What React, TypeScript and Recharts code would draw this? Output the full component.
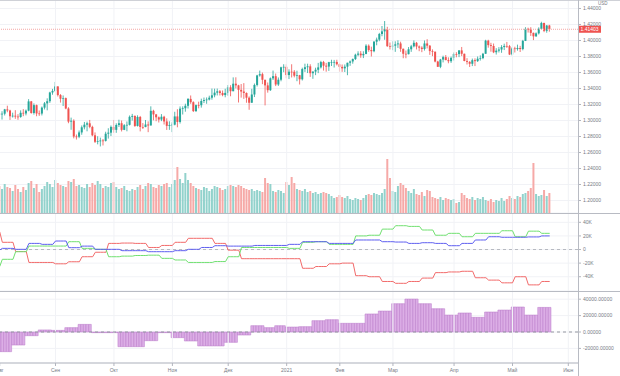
import React from "react";
import {
  ComposedChart,
  Bar,
  Line,
  XAxis,
  YAxis,
  CartesianGrid,
  ReferenceLine,
  Cell,
} from "recharts";

// GBP/USD daily candles, 3 Aug 2020 - 21 May 2021 (no bars on 25 Dec / 1 Jan)
const opens = [
  1.3085, 1.3077, 1.3085, 1.3139, 1.3125, 1.3053, 1.3060, 1.3049, 1.3044, 1.3096, 1.3088, 1.3123, 1.3239, 1.3094, 1.3192, 1.3088, 1.3087, 1.3161, 1.3214, 1.3241, 1.3350,
  1.3370, 1.3426, 1.3318, 1.3272, 1.3280, 1.3150, 1.2986, 1.2997, 1.2800, 1.2797, 1.2851, 1.2915, 1.2948, 1.2965, 1.2920, 1.2815, 1.2734, 1.2740, 1.2750, 1.2745, 1.2835, 1.2848,
  1.2920, 1.2883, 1.2944, 1.2966, 1.2883, 1.2941, 1.2946, 1.3046, 1.3057, 1.2932, 1.3044, 1.2919, 1.2918, 1.2950, 1.2938, 1.3121, 1.3076, 1.3040, 1.3012, 1.3047, 1.2988, 1.2933,
  1.2944, 1.2948, 1.3051, 1.2982, 1.3148, 1.3153, 1.3184, 1.3270, 1.3229, 1.3118, 1.3192, 1.3191, 1.3244, 1.3256, 1.3262, 1.3285, 1.3315, 1.3348, 1.3365, 1.3344, 1.3318,
  1.3345, 1.3415, 1.3366, 1.3460, 1.3439, 1.3383, 1.3362, 1.3344, 1.3285, 1.3222, 1.3325, 1.3444, 1.3563, 1.3579, 1.3509, 1.3439, 1.3379, 1.3527, 1.3554, 1.3450, 1.3510, 1.3665,
  1.3671, 1.3568, 1.3610, 1.3609, 1.3560, 1.3566, 1.3515, 1.3643, 1.3666, 1.3677, 1.3591, 1.3611, 1.3634, 1.3664, 1.3730, 1.3685, 1.3674, 1.3729, 1.3731, 1.3732,
  1.3703, 1.3670, 1.3652, 1.3673, 1.3722, 1.3738, 1.3768, 1.3822, 1.3836, 1.3815, 1.3832, 1.3935, 1.3881, 1.3866, 1.3985, 1.4011, 1.4081, 1.4114, 1.4140, 1.3929,
  1.3925, 1.3935, 1.3952, 1.3963, 1.3896, 1.3834, 1.3829, 1.3890, 1.3927, 1.3971, 1.3925, 1.3910, 1.3894, 1.3963, 1.3935, 1.3868, 1.3860, 1.3737, 1.3671, 1.3762, 1.3792, 1.3755, 1.3741,
  1.3783, 1.3831, 1.3830, 1.3876, 1.3834, 1.3744, 1.3733, 1.3709, 1.3754, 1.3742, 1.3772, 1.3780, 1.3834, 1.3998, 1.3942, 1.3931, 1.3853, 1.3873, 1.3887, 1.3918, 1.3932, 1.3929,
  1.3825, 1.3901, 1.3893, 1.3906, 1.3893, 1.3995, 1.4146, 1.4136, 1.4095, 1.4052, 1.4089, 1.4146, 1.4219, 1.4121, 1.4187,
];
const highs = [
  1.3123, 1.3116, 1.3145, 1.3185, 1.3134, 1.3098, 1.3129, 1.3079, 1.3127, 1.3142, 1.3137, 1.3267, 1.3244, 1.3214, 1.3199, 1.3125, 1.3175, 1.3231, 1.3277, 1.3359, 1.3395,
  1.3482, 1.3428, 1.3330, 1.3313, 1.3287, 1.3166, 1.3036, 1.3015, 1.2825, 1.2875, 1.2938, 1.2982, 1.2986, 1.3007, 1.2935, 1.2851, 1.2803, 1.2786, 1.2769, 1.2860, 1.2903, 1.2938,
  1.3007, 1.2965, 1.3010, 1.3000, 1.2955, 1.2988, 1.3063, 1.3083, 1.3064, 1.3065, 1.3057, 1.2968, 1.3006, 1.2989, 1.3177, 1.3134, 1.3082, 1.3050, 1.3080, 1.3059, 1.3027, 1.2990,
  1.2977, 1.3109, 1.3141, 1.3176, 1.3177, 1.3210, 1.3279, 1.3313, 1.3240, 1.3200, 1.3235, 1.3273, 1.3287, 1.3288, 1.3310, 1.3399, 1.3398, 1.3399, 1.3381, 1.3375, 1.3397,
  1.3443, 1.3441, 1.3539, 1.3540, 1.3446, 1.3456, 1.3467, 1.3351, 1.3301, 1.3396, 1.3462, 1.3571, 1.3624, 1.3599, 1.3509, 1.3475, 1.3538, 1.3624, 1.3587, 1.3538, 1.3672, 1.3703,
  1.3703, 1.3640, 1.3703, 1.3630, 1.3622, 1.3570, 1.3660, 1.3710, 1.3710, 1.3703, 1.3615, 1.3660, 1.3720, 1.3746, 1.3745, 1.3720, 1.3733, 1.3759, 1.3757, 1.3759,
  1.3712, 1.3700, 1.3700, 1.3722, 1.3750, 1.3775, 1.3835, 1.3865, 1.3867, 1.3865, 1.3953, 1.3951, 1.3923, 1.3993, 1.4036, 1.4095, 1.4181, 1.4243, 1.4171, 1.3975,
  1.3990, 1.3990, 1.4002, 1.3985, 1.3900, 1.3874, 1.3918, 1.3945, 1.4001, 1.3982, 1.3938, 1.3928, 1.4000, 1.4016, 1.3943, 1.3889, 1.3861, 1.3746, 1.3770, 1.3810, 1.3818, 1.3789, 1.3799,
  1.3850, 1.3854, 1.3880, 1.3919, 1.3836, 1.3779, 1.3742, 1.3774, 1.3777, 1.3800, 1.3814, 1.3845, 1.4009, 1.4009, 1.3971, 1.3962, 1.3904, 1.3917, 1.3942, 1.3960, 1.3982, 1.3944,
  1.3918, 1.3922, 1.3948, 1.3933, 1.4008, 1.4166, 1.4160, 1.4166, 1.4099, 1.4101, 1.4164, 1.4234, 1.4222, 1.4193, 1.4195,
];
const lows = [
  1.2981, 1.3012, 1.3063, 1.3103, 1.3007, 1.3037, 1.3021, 1.3009, 1.3034, 1.3054, 1.3064, 1.3115, 1.3085, 1.3074, 1.3053, 1.3058, 1.3063, 1.3138, 1.3127, 1.3220, 1.3322,
  1.3358, 1.3300, 1.3224, 1.3181, 1.3141, 1.2966, 1.2884, 1.2777, 1.2762, 1.2779, 1.2822, 1.2889, 1.2865, 1.2903, 1.2803, 1.2719, 1.2702, 1.2676, 1.2688, 1.2737, 1.2774, 1.2806,
  1.2847, 1.2846, 1.2919, 1.2863, 1.2880, 1.2865, 1.2938, 1.2999, 1.2920, 1.2925, 1.2864, 1.2894, 1.2916, 1.2854, 1.2938, 1.3002, 1.2991, 1.2975, 1.2992, 1.2950, 1.2882, 1.2883,
  1.2855, 1.2939, 1.2915, 1.2962, 1.3075, 1.3110, 1.3150, 1.3208, 1.3106, 1.3106, 1.3152, 1.3161, 1.3218, 1.3209, 1.3251, 1.3260, 1.3290, 1.3313, 1.3313, 1.3303, 1.3290,
  1.3310, 1.3303, 1.3365, 1.3401, 1.3225, 1.3286, 1.3270, 1.3222, 1.3134, 1.3222, 1.3293, 1.3425, 1.3548, 1.3454, 1.3189, 1.3348, 1.3370, 1.3506, 1.3430, 1.3432, 1.3490, 1.3604,
  1.3528, 1.3518, 1.3538, 1.3539, 1.3491, 1.3450, 1.3500, 1.3607, 1.3593, 1.3545, 1.3521, 1.3567, 1.3592, 1.3650, 1.3624, 1.3610, 1.3620, 1.3681, 1.3662, 1.3688,
  1.3610, 1.3608, 1.3606, 1.3566, 1.3683, 1.3710, 1.3756, 1.3803, 1.3784, 1.3780, 1.3828, 1.3859, 1.3800, 1.3853, 1.3940, 1.3991, 1.4053, 1.4009, 1.3920, 1.3887,
  1.3879, 1.3858, 1.3907, 1.3858, 1.3778, 1.3778, 1.3826, 1.3858, 1.3914, 1.3888, 1.3866, 1.3854, 1.3874, 1.3901, 1.3820, 1.3804, 1.3727, 1.3670, 1.3654, 1.3726, 1.3753, 1.3715, 1.3720,
  1.3750, 1.3790, 1.3792, 1.3805, 1.3740, 1.3700, 1.3669, 1.3680, 1.3680, 1.3732, 1.3749, 1.3766, 1.3834, 1.3910, 1.3860, 1.3842, 1.3824, 1.3850, 1.3846, 1.3880, 1.3907, 1.3818,
  1.3811, 1.3850, 1.3873, 1.3856, 1.3877, 1.3993, 1.4099, 1.4057, 1.4005, 1.4045, 1.4075, 1.4140, 1.4104, 1.4097, 1.4110,
];
const closes = [
  1.3077, 1.3085, 1.3139, 1.3125, 1.3053, 1.3060, 1.3049, 1.3044, 1.3096, 1.3088, 1.3123, 1.3239, 1.3094, 1.3192, 1.3088, 1.3087, 1.3161, 1.3214, 1.3241, 1.3350, 1.3370,
  1.3426, 1.3318, 1.3272, 1.3280, 1.3150, 1.2986, 1.2997, 1.2800, 1.2797, 1.2851, 1.2915, 1.2948, 1.2965, 1.2920, 1.2815, 1.2734, 1.2740, 1.2750, 1.2745, 1.2835, 1.2848, 1.2920,
  1.2883, 1.2944, 1.2966, 1.2883, 1.2941, 1.2946, 1.3046, 1.3057, 1.2932, 1.3044, 1.2919, 1.2918, 1.2950, 1.2938, 1.3121, 1.3076, 1.3040, 1.3012, 1.3047, 1.2988, 1.2933, 1.2944,
  1.2948, 1.3051, 1.2982, 1.3148, 1.3153, 1.3184, 1.3270, 1.3229, 1.3118, 1.3192, 1.3191, 1.3244, 1.3256, 1.3262, 1.3285, 1.3315, 1.3348, 1.3365, 1.3344, 1.3318, 1.3345,
  1.3415, 1.3366, 1.3460, 1.3439, 1.3383, 1.3362, 1.3344, 1.3285, 1.3222, 1.3325, 1.3444, 1.3563, 1.3579, 1.3509, 1.3439, 1.3379, 1.3527, 1.3554, 1.3450, 1.3510, 1.3665, 1.3671,
  1.3568, 1.3610, 1.3609, 1.3560, 1.3566, 1.3515, 1.3643, 1.3666, 1.3677, 1.3591, 1.3611, 1.3634, 1.3664, 1.3730, 1.3685, 1.3674, 1.3729, 1.3731, 1.3732, 1.3703,
  1.3670, 1.3652, 1.3673, 1.3722, 1.3738, 1.3768, 1.3822, 1.3836, 1.3815, 1.3832, 1.3935, 1.3881, 1.3866, 1.3985, 1.4011, 1.4081, 1.4114, 1.4140, 1.3929, 1.3925,
  1.3935, 1.3952, 1.3963, 1.3896, 1.3834, 1.3829, 1.3890, 1.3927, 1.3971, 1.3925, 1.3910, 1.3894, 1.3963, 1.3935, 1.3868, 1.3860, 1.3737, 1.3671, 1.3762, 1.3792, 1.3755, 1.3741, 1.3783,
  1.3831, 1.3830, 1.3876, 1.3834, 1.3744, 1.3733, 1.3709, 1.3754, 1.3742, 1.3772, 1.3780, 1.3834, 1.3998, 1.3942, 1.3931, 1.3853, 1.3873, 1.3887, 1.3918, 1.3932, 1.3929, 1.3825,
  1.3901, 1.3893, 1.3906, 1.3893, 1.3995, 1.4146, 1.4136, 1.4095, 1.4052, 1.4089, 1.4146, 1.4219, 1.4121, 1.4187, 1.4140,
];
const volumes = [
  27, 24, 29, 26, 25, 22, 28, 24, 21, 26, 23, 30, 32, 25, 29, 21, 24, 27, 31, 29, 26,
  33, 30, 28, 27, 26, 32, 31, 34, 27, 28, 26, 25, 29, 26, 30, 28, 32, 29, 25, 27, 26, 30,
  31, 26, 24, 25, 27, 23, 22, 24, 23, 26, 28, 24, 27, 30, 29, 26, 25, 28, 27, 29, 30, 26,
  29, 33, 46, 34, 30, 40, 33, 30, 27, 25, 24, 23, 26, 25, 22, 24, 27, 26, 25, 23, 24,
  27, 28, 27, 26, 28, 27, 25, 24, 23, 24, 22, 23, 22, 21, 35, 30, 29, 22, 21, 23, 22, 20,
  31, 28, 36, 30, 24, 23, 22, 24, 21, 22, 20, 21, 19, 20, 21, 20, 19, 17, 15, 16,
  18, 16, 15, 17, 14, 13, 15, 14, 13, 15, 18, 19, 18, 20, 19, 18, 20, 24, 54, 35,
  22, 21, 27, 30, 28, 25, 22, 20, 24, 19, 18, 21, 17, 23, 22, 16, 15, 14, 16, 13, 15, 14, 13,
  14, 10, 11, 20, 18, 15, 14, 16, 13, 15, 14, 16, 13, 12, 14, 11, 13, 12, 15, 12, 14, 17,
  15, 14, 17, 16, 19, 20, 22, 25, 50, 19, 17, 18, 23, 17, 20,
];

// weekly positioning (contracts), a new value each Tuesday
const commercials = [
  26000, 10600, -3000, -19000, -19000, -21000, -18000, -10600, -4000, 9000, 9500, 9000, 3000, 6000, 10600,
  16500, 16500, 9000, -1000, -13500, -13500, -13500, -13500, -13500, -27600, -25000, -21000, -20000, -38500,
  -40000, -47000, -49700, -47000, -42000, -34000, -33000, -32000, -41500, -45000, -49000, -40000, -52000, -47000,
];
const largeSpecs = [
  -25000, -14400, -3200, 5100, 5100, 5100, 11500, 1700, 300, -10600, -9700, -8800, -8300, -13000, -15400,
  -19000, -19000, -17700, -10600, 3000, 3000, 3000, 3000, 1700, 10600, 11500, 7600, 7600, 20000,
  21000, 30000, 35000, 34000, 28700, 21000, 23800, 18800, 23800, 23800, 27600, 18800, 27000, 23800,
];
const smallSpecs = [
  -700, 1700, 300, 9000, 7600, 12500, 2700, 5000, 300, 300, -1700, -1700, -3200, -3200, -1700,
  300, 3000, 5600, 5000, 5000, 6000, 6000, 6000, 7600, 11500, 11500, 9000, 9000, 14000,
  14000, 11500, 11000, 9000, 10000, 9000, 5600, 9000, 14000, 18800, 18000, 18000, 18500, 20000,
];
// weekly net position, a new value each Monday
const netPosition = [
  -24000, -15900, -4500, 2500, 2000, 5300, 9300, -800, -800, -17900, -17900, -10600, -800, -6900,
  -11000, -17000, -17000, -12600, -3700, 7700, 5300, 7700, 6100, 6500, 13800, 15000, 10600, 10600,
  22000, 25600, 34500, 40200, 34500, 28400, 20700, 23200, 17900, 24400, 26800, 30500, 20700, 30000,
];

const monthTicks = [0, 21, 43, 65, 86, 108, 128, 148, 171, 193, 214];
const monthLabels = ["Авг", "Сен", "Окт", "Ноя", "Дек", "2021", "Фев", "Мар", "Апр", "Май", "Июн"];
const priceTicks = [1.2, 1.22, 1.24, 1.26, 1.28, 1.3, 1.32, 1.34, 1.36, 1.38, 1.4, 1.42, 1.44];
const cotTicks = [-40000, -20000, 0, 20000, 40000];
const netTicks = [-20000, 0, 20000, 40000];
const lastPrice = 1.41403;
const holidays = ["2020-12-25", "2021-01-01"];

const UP = "#26a69a";
const DOWN = "#ef5350";
const GRID = "#f1f2f6";
const AXIS = "#b2b5be";
const LABEL = "#787b86";
const X_DOMAIN: [number, number] = [0.113, 217.65];

// trading days -> day number counted from Monday 27 Jul 2020
const DAY = 86400000;
const ref = Date.UTC(2020, 6, 27);
const dayNums: number[] = [];
for (let t = Date.UTC(2020, 7, 3); t <= Date.UTC(2021, 4, 21); t += DAY) {
  const dow = new Date(t).getUTCDay();
  if (dow === 0 || dow === 6) continue;
  if (holidays.includes(new Date(t).toISOString().slice(0, 10))) continue;
  dayNums.push(Math.round((t - ref) / DAY));
}

const rows = dayNums.map((d, i) => {
  const w = Math.floor((d - 1) / 7);
  const m = Math.floor(d / 7) - 1;
  return {
    i,
    open: opens[i],
    high: highs[i],
    low: lows[i],
    close: closes[i],
    range: [lows[i], highs[i]],
    volume: volumes[i],
    up: closes[i] >= opens[i],
    commercials: commercials[w],
    largeSpecs: largeSpecs[w],
    smallSpecs: smallSpecs[w],
    net: netPosition[m],
  };
});

const tickStyle = { fontSize: 5, fill: LABEL };

function Candle(props: any) {
  const { x, y, width, height, payload } = props;
  if (!payload || payload.high == null) return null;
  const { open, close, high, low } = payload;
  const top0 = Math.min(y, y + height);
  const h = Math.abs(height);
  const span = high - low || 1e-9;
  const py = (v: number) => top0 + ((high - v) / span) * h;
  const color = close >= open ? UP : DOWN;
  const cx = x + width / 2;
  const bTop = py(Math.max(open, close));
  const bBot = py(Math.min(open, close));
  return (
    <g>
      <line x1={cx} x2={cx} y1={top0} y2={top0 + h} stroke={color} strokeWidth={0.8} />
      <rect x={x} y={bTop} width={width} height={Math.max(bBot - bTop, 0.7)} fill={color} />
    </g>
  );
}

function PriceTag(props: any) {
  const { viewBox } = props;
  if (!viewBox) return null;
  const x = viewBox.x + viewBox.width;
  return (
    <g>
      <rect x={x + 1} y={viewBox.y - 3.5} width={22} height={7} fill={DOWN} />
      <text x={x + 2.5} y={viewBox.y + 1.8} fontSize={5} fill="#fff">
        {lastPrice.toFixed(5)}
      </text>
    </g>
  );
}

const kFormat = (v: number) => (v === 0 ? "0" : `${v / 1000}K`);

export default function App() {
  return (
    <div
      style={{
        position: "relative",
        width: 620,
        height: 376,
        background: "#fff",
        fontFamily: "'Liberation Sans', Arial, sans-serif",
        overflow: "hidden",
      }}
    >
      <style>{`body{margin:0}`}</style>

      {/* price + volume */}
      <ComposedChart width={620} height={213} data={rows} margin={{ top: 0, right: 0, bottom: 0, left: 0 }}>
        <XAxis xAxisId="p" dataKey="i" type="number" domain={X_DOMAIN} hide allowDataOverflow />
        <XAxis xAxisId="v" dataKey="i" type="number" domain={X_DOMAIN} hide allowDataOverflow />
        <YAxis
          yAxisId="price"
          orientation="right"
          width={42}
          domain={[1.1844, 1.4506]}
          ticks={priceTicks}
          interval={0}
          allowDataOverflow
          tickFormatter={(v: number) => v.toFixed(5)}
          tick={tickStyle}
          tickSize={3}
          tickLine={{ stroke: AXIS }}
          axisLine={false}
        />
        <YAxis yAxisId="vol" hide domain={[0, 213]} allowDataOverflow />
        <CartesianGrid xAxisId="p" yAxisId="price" vertical={false} stroke={GRID} />
        {monthTicks.map((t) => (
          <ReferenceLine key={t} xAxisId="p" yAxisId="price" x={t} stroke={GRID} />
        ))}
        <Bar xAxisId="v" yAxisId="vol" dataKey="volume" barSize={2} isAnimationActive={false}>
          {rows.map((r) => (
            <Cell key={r.i} fill={r.up ? "#92d2cc" : "#f6a9a7"} />
          ))}
        </Bar>
        <ReferenceLine
          xAxisId="p"
          yAxisId="price"
          y={lastPrice}
          stroke="#f5a5a4"
          strokeDasharray="1 1"
          label={PriceTag}
        />
        <Bar
          xAxisId="p"
          yAxisId="price"
          dataKey="range"
          barSize={2}
          shape={Candle}
          isAnimationActive={false}
        />
      </ComposedChart>

      {/* positioning lines */}
      <ComposedChart width={620} height={78} data={rows} margin={{ top: 0, right: 0, bottom: 0, left: 0 }}>
        <XAxis dataKey="i" type="number" domain={X_DOMAIN} hide allowDataOverflow />
        <YAxis
          orientation="right"
          width={42}
          domain={[-61000, 53700]}
          ticks={cotTicks}
          interval={0}
          allowDataOverflow
          tickFormatter={kFormat}
          tick={tickStyle}
          tickSize={3}
          tickLine={{ stroke: AXIS }}
          axisLine={false}
        />
        <CartesianGrid vertical={false} stroke={GRID} />
        {monthTicks.map((t) => (
          <ReferenceLine key={t} x={t} stroke={GRID} />
        ))}
        <ReferenceLine y={0} stroke="#b6b9c0" strokeDasharray="3 3" />
        <Line dataKey="commercials" type="linear" stroke="#f26a6a" strokeWidth={1} dot={false} isAnimationActive={false} />
        <Line dataKey="largeSpecs" type="linear" stroke="#70e070" strokeWidth={1} dot={false} isAnimationActive={false} />
        <Line dataKey="smallSpecs" type="linear" stroke="#5e5ef0" strokeWidth={1} dot={false} isAnimationActive={false} />
      </ComposedChart>

      {/* net position histogram + date axis */}
      <ComposedChart width={620} height={85} data={rows} margin={{ top: 0, right: 0, bottom: 0, left: 0 }}>
        <XAxis
          dataKey="i"
          type="number"
          domain={X_DOMAIN}
          allowDataOverflow
          ticks={monthTicks}
          interval={0}
          height={13}
          tickFormatter={(v: number) => monthLabels[monthTicks.indexOf(v)] ?? ""}
          tick={tickStyle}
          tickSize={3}
          tickLine={{ stroke: AXIS }}
          axisLine={{ stroke: AXIS }}
        />
        <YAxis
          orientation="right"
          width={42}
          domain={[-37800, 50000]}
          ticks={netTicks}
          interval={0}
          allowDataOverflow
          tickFormatter={(v: number) => v.toFixed(5)}
          tick={tickStyle}
          tickSize={3}
          tickLine={{ stroke: AXIS }}
          axisLine={false}
        />
        <CartesianGrid vertical={false} stroke={GRID} />
        {monthTicks.map((t) => (
          <ReferenceLine key={t} x={t} stroke={GRID} />
        ))}
        <Bar dataKey="net" barSize={2.6} fill="#dcaee6" stroke="#b878c9" strokeWidth={0.5} isAnimationActive={false} />
        <ReferenceLine y={0} stroke="#9598a1" strokeDasharray="3 3" />
      </ComposedChart>

      {/* pane frame */}
      <div style={{ position: "absolute", left: 0, top: 0, width: 620, height: 1, background: "#cfd1d7" }} />
      <div style={{ position: "absolute", left: 0, top: 213, width: 620, height: 1, background: "#b8bbc3" }} />
      <div style={{ position: "absolute", left: 0, top: 291, width: 620, height: 1, background: "#b8bbc3" }} />
      <div style={{ position: "absolute", left: 578, top: 0, width: 1, height: 376, background: "#b8bbc3" }} />
      <div
        style={{
          position: "absolute",
          left: 598,
          top: 1,
          fontSize: 4.5,
          color: LABEL,
          lineHeight: "5px",
        }}
      >
        USD
      </div>
    </div>
  );
}
